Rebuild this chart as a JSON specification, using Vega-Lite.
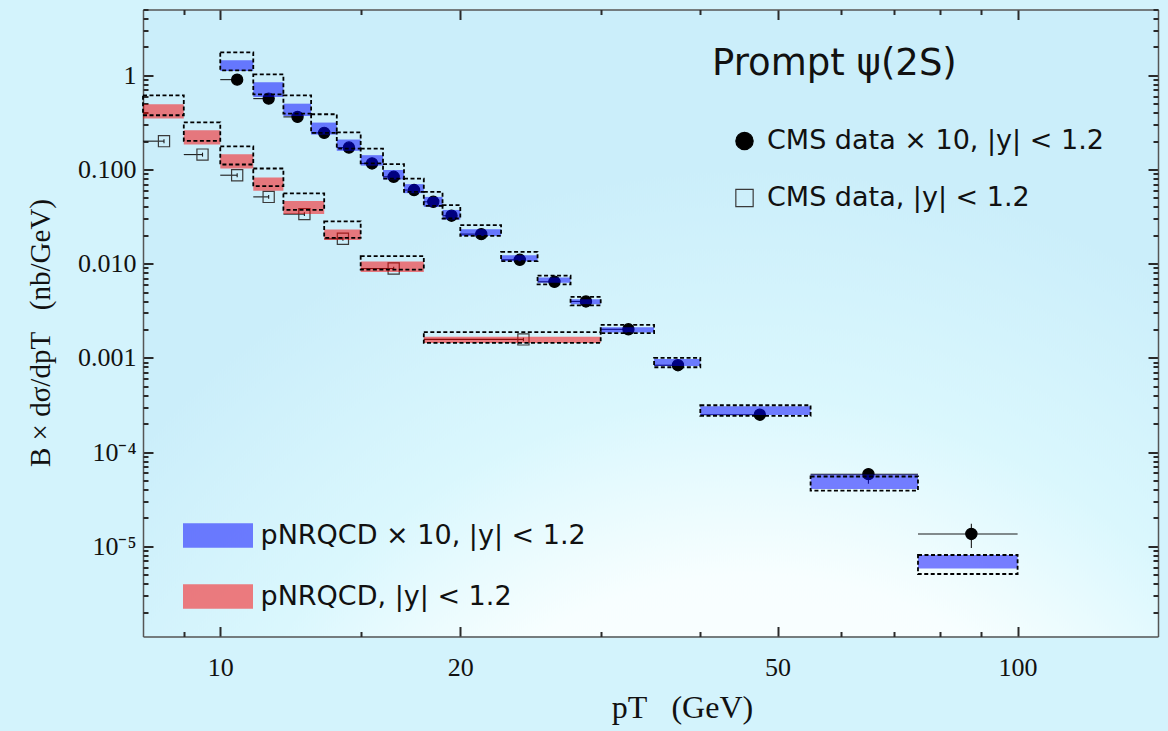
{
  "$schema": "https://vega.github.io/schema/vega-lite/v6.json",
  "width": 1015,
  "height": 627,
  "autosize": {"type": "none"},
  "padding": {"left": 143, "top": 9.5, "right": 10, "bottom": 94.5},
  "background": "#d3f3fc",
  "view": {
    "stroke": null,
    "fill": {
      "gradient": "radial",
      "x1": 0.6, "y1": 1.15, "r1": 0,
      "x2": 0.6, "y2": 1.15, "r2": 0.8,
      "stops": [
        {"offset": 0, "color": "#ffffff"},
        {"offset": 0.5, "color": "#f7feff"},
        {"offset": 0.72, "color": "#daf7fd"},
        {"offset": 1, "color": "#cbeefa"}
      ]
    }
  },
  "datasets": {
    "theory": [
      {"model": "pNRQCD × 10, |y| < 1.2", "lo": 10, "hi": 11, "band_lo": 1.11, "band_hi": 1.443, "box_lo": 1.13, "box_hi": 1.75},
      {"model": "pNRQCD × 10, |y| < 1.2", "lo": 11, "hi": 12, "band_lo": 0.589, "band_hi": 0.843, "box_lo": 0.629, "box_hi": 1.025},
      {"model": "pNRQCD × 10, |y| < 1.2", "lo": 12, "hi": 13, "band_lo": 0.37, "band_hi": 0.5, "box_lo": 0.393, "box_hi": 0.614},
      {"model": "pNRQCD × 10, |y| < 1.2", "lo": 13, "hi": 14, "band_lo": 0.235, "band_hi": 0.315, "box_lo": 0.245, "box_hi": 0.386},
      {"model": "pNRQCD × 10, |y| < 1.2", "lo": 14, "hi": 15, "band_lo": 0.158, "band_hi": 0.208, "box_lo": 0.167, "box_hi": 0.248},
      {"model": "pNRQCD × 10, |y| < 1.2", "lo": 15, "hi": 16, "band_lo": 0.11, "band_hi": 0.142, "box_lo": 0.116, "box_hi": 0.167},
      {"model": "pNRQCD × 10, |y| < 1.2", "lo": 16, "hi": 17, "band_lo": 0.0784, "band_hi": 0.0985, "box_lo": 0.0802, "box_hi": 0.1138},
      {"model": "pNRQCD × 10, |y| < 1.2", "lo": 17, "hi": 18, "band_lo": 0.0561, "band_hi": 0.0699, "box_lo": 0.0578, "box_hi": 0.0802},
      {"model": "pNRQCD × 10, |y| < 1.2", "lo": 18, "hi": 19, "band_lo": 0.0401, "band_hi": 0.0512, "box_lo": 0.0411, "box_hi": 0.0578},
      {"model": "pNRQCD × 10, |y| < 1.2", "lo": 19, "hi": 20, "band_lo": 0.0294, "band_hi": 0.0372, "box_lo": 0.0302, "box_hi": 0.0418},
      {"model": "pNRQCD × 10, |y| < 1.2", "lo": 20, "hi": 22.5, "band_lo": 0.0197, "band_hi": 0.0232, "box_lo": 0.0197, "box_hi": 0.0257},
      {"model": "pNRQCD × 10, |y| < 1.2", "lo": 22.5, "hi": 25, "band_lo": 0.01064, "band_hi": 0.0123, "box_lo": 0.01064, "box_hi": 0.01336},
      {"model": "pNRQCD × 10, |y| < 1.2", "lo": 25, "hi": 27.5, "band_lo": 0.00626, "band_hi": 0.00715, "box_lo": 0.00604, "box_hi": 0.00745},
      {"model": "pNRQCD × 10, |y| < 1.2", "lo": 27.5, "hi": 30, "band_lo": 0.00371, "band_hi": 0.00419, "box_lo": 0.00361, "box_hi": 0.00445},
      {"model": "pNRQCD × 10, |y| < 1.2", "lo": 30, "hi": 35, "band_lo": 0.00186, "band_hi": 0.00212, "box_lo": 0.00183, "box_hi": 0.00224},
      {"model": "pNRQCD × 10, |y| < 1.2", "lo": 35, "hi": 40, "band_lo": 0.000822, "band_hi": 0.000975, "box_lo": 0.000795, "box_hi": 0.000998},
      {"model": "pNRQCD × 10, |y| < 1.2", "lo": 40, "hi": 55, "band_lo": 0.000247, "band_hi": 0.000307, "box_lo": 0.000242, "box_hi": 0.000314},
      {"model": "pNRQCD × 10, |y| < 1.2", "lo": 55, "hi": 75, "band_lo": 0.0000406, "band_hi": 0.0000576, "box_lo": 0.000039, "box_hi": 0.000055},
      {"model": "pNRQCD × 10, |y| < 1.2", "lo": 75, "hi": 100, "band_lo": 0.0000058, "band_hi": 0.00000807, "box_lo": 0.00000507, "box_hi": 0.00000807},
      {"model": "pNRQCD, |y| < 1.2", "lo": 8, "hi": 9, "band_lo": 0.348, "band_hi": 0.493, "box_lo": 0.377, "box_hi": 0.614},
      {"model": "pNRQCD, |y| < 1.2", "lo": 9, "hi": 10, "band_lo": 0.184, "band_hi": 0.261, "box_lo": 0.201, "box_hi": 0.317},
      {"model": "pNRQCD, |y| < 1.2", "lo": 10, "hi": 11, "band_lo": 0.1025, "band_hi": 0.145, "box_lo": 0.113, "box_hi": 0.176},
      {"model": "pNRQCD, |y| < 1.2", "lo": 11, "hi": 12, "band_lo": 0.0594, "band_hi": 0.0821, "box_lo": 0.0665, "box_hi": 0.1025},
      {"model": "pNRQCD, |y| < 1.2", "lo": 12, "hi": 13.5, "band_lo": 0.0336, "band_hi": 0.0464, "box_lo": 0.0372, "box_hi": 0.0557},
      {"model": "pNRQCD, |y| < 1.2", "lo": 13.5, "hi": 15, "band_lo": 0.0178, "band_hi": 0.0231, "box_lo": 0.0188, "box_hi": 0.0282},
      {"model": "pNRQCD, |y| < 1.2", "lo": 15, "hi": 18, "band_lo": 0.00817, "band_hi": 0.01055, "box_lo": 0.00866, "box_hi": 0.01203},
      {"model": "pNRQCD, |y| < 1.2", "lo": 18, "hi": 30, "band_lo": 0.00144, "band_hi": 0.00168, "box_lo": 0.00144, "box_hi": 0.00188}
    ],
    "cms": [
      {"series": "CMS data × 10, |y| < 1.2", "pt": 10.5, "xlo": 10, "xhi": 10.5, "y": 0.9, "ylo": 0.865, "yhi": 0.935},
      {"series": "CMS data × 10, |y| < 1.2", "pt": 11.5, "xlo": 11, "xhi": 11.5, "y": 0.566, "ylo": 0.544, "yhi": 0.588},
      {"series": "CMS data × 10, |y| < 1.2", "pt": 12.5, "xlo": 12, "xhi": 12.5, "y": 0.362, "ylo": 0.348, "yhi": 0.376},
      {"series": "CMS data × 10, |y| < 1.2", "pt": 13.5, "xlo": 13, "xhi": 13.5, "y": 0.245, "ylo": 0.235, "yhi": 0.255},
      {"series": "CMS data × 10, |y| < 1.2", "pt": 14.5, "xlo": 14, "xhi": 14.5, "y": 0.171, "ylo": 0.164, "yhi": 0.178},
      {"series": "CMS data × 10, |y| < 1.2", "pt": 15.5, "xlo": 15, "xhi": 15.5, "y": 0.116, "ylo": 0.111, "yhi": 0.121},
      {"series": "CMS data × 10, |y| < 1.2", "pt": 16.5, "xlo": 16, "xhi": 16.5, "y": 0.0837, "ylo": 0.0803, "yhi": 0.0871},
      {"series": "CMS data × 10, |y| < 1.2", "pt": 17.5, "xlo": 17, "xhi": 17.5, "y": 0.0605, "ylo": 0.058, "yhi": 0.063},
      {"series": "CMS data × 10, |y| < 1.2", "pt": 18.5, "xlo": 18, "xhi": 18.5, "y": 0.0454, "ylo": 0.0435, "yhi": 0.0473},
      {"series": "CMS data × 10, |y| < 1.2", "pt": 19.5, "xlo": 19, "xhi": 19.5, "y": 0.0323, "ylo": 0.031, "yhi": 0.0336},
      {"series": "CMS data × 10, |y| < 1.2", "pt": 21.25, "xlo": 20, "xhi": 21.25, "y": 0.0206, "ylo": 0.0198, "yhi": 0.0214},
      {"series": "CMS data × 10, |y| < 1.2", "pt": 23.75, "xlo": 22.5, "xhi": 23.75, "y": 0.011, "ylo": 0.0105, "yhi": 0.0115},
      {"series": "CMS data × 10, |y| < 1.2", "pt": 26.25, "xlo": 25, "xhi": 26.25, "y": 0.00642, "ylo": 0.00614, "yhi": 0.0067},
      {"series": "CMS data × 10, |y| < 1.2", "pt": 28.75, "xlo": 27.5, "xhi": 28.75, "y": 0.00397, "ylo": 0.0038, "yhi": 0.00414},
      {"series": "CMS data × 10, |y| < 1.2", "pt": 32.5, "xlo": 30, "xhi": 32.5, "y": 0.00201, "ylo": 0.00192, "yhi": 0.0021},
      {"series": "CMS data × 10, |y| < 1.2", "pt": 37.5, "xlo": 35, "xhi": 37.5, "y": 0.000835, "ylo": 0.000795, "yhi": 0.000875},
      {"series": "CMS data × 10, |y| < 1.2", "pt": 47.5, "xlo": 40, "xhi": 47.5, "y": 0.000249, "ylo": 0.000236, "yhi": 0.000262},
      {"series": "CMS data × 10, |y| < 1.2", "pt": 65, "xlo": 55, "xhi": 75, "y": 0.0000582, "ylo": 0.000046, "yhi": 0.000066},
      {"series": "CMS data × 10, |y| < 1.2", "pt": 87.5, "xlo": 75, "xhi": 100, "y": 0.0000135, "ylo": 0.0000096, "yhi": 0.0000173},
      {"series": "CMS data, |y| < 1.2", "pt": 8.5, "xlo": 8, "xhi": 8.5, "y": 0.2, "ylo": 0.19, "yhi": 0.21},
      {"series": "CMS data, |y| < 1.2", "pt": 9.5, "xlo": 9, "xhi": 9.5, "y": 0.144, "ylo": 0.137, "yhi": 0.151},
      {"series": "CMS data, |y| < 1.2", "pt": 10.5, "xlo": 10, "xhi": 10.5, "y": 0.087, "ylo": 0.083, "yhi": 0.091},
      {"series": "CMS data, |y| < 1.2", "pt": 11.5, "xlo": 11, "xhi": 11.5, "y": 0.0512, "ylo": 0.0488, "yhi": 0.0536},
      {"series": "CMS data, |y| < 1.2", "pt": 12.75, "xlo": 12, "xhi": 12.75, "y": 0.0336, "ylo": 0.032, "yhi": 0.0352},
      {"series": "CMS data, |y| < 1.2", "pt": 14.25, "xlo": 13.5, "xhi": 14.25, "y": 0.01837, "ylo": 0.0175, "yhi": 0.0192},
      {"series": "CMS data, |y| < 1.2", "pt": 16.5, "xlo": 15, "xhi": 16.5, "y": 0.0089, "ylo": 0.0085, "yhi": 0.0093},
      {"series": "CMS data, |y| < 1.2", "pt": 24, "xlo": 18, "xhi": 24, "y": 0.00157, "ylo": 0.0015, "yhi": 0.00164}
    ]
  },
  "layer": [
    {
      "data": {"name": "theory"},
      "mark": {"type": "point", "opacity": 0},
      "encoding": {
        "x": {
          "field": "lo", "type": "quantitative",
          "scale": {"type": "log", "domain": [8, 150], "nice": false},
          "axis": {
            "orient": "bottom", "grid": false,
            "values": [10, 20, 50, 100],
            "labelExpr": "format(datum.value, 'd')",
            "tickSize": -10, "tickColor": "#2a2a2a", "tickWidth": 2, "domainColor": "#555", "domainWidth": 1.5,
            "labelFont": "Liberation Serif", "labelFontSize": 26, "labelColor": "#111", "labelPadding": 28, "labelBaseline": "top",
            "title": "pT\u00a0\u00a0\u00a0(GeV)", "titleFont": "Liberation Serif", "titleFontSize": 32, "titleFontWeight": "normal", "titleColor": "#111",
            "titleX": 539, "titleY": 81, "titleBaseline": "alphabetic", "titleAnchor": "middle"
          }
        },
        "y": {
          "field": "band_lo", "type": "quantitative",
          "scale": {"type": "log", "domain": [0.0000011, 5], "nice": false},
          "axis": {
            "orient": "left", "grid": false,
            "values": [0.00001, 0.0001, 0.001, 0.01, 0.1, 1],
            "labelExpr": "datum.value == 1 ? '1' : datum.value == 0.1 ? '0.100' : datum.value == 0.01 ? '0.010' : datum.value == 0.001 ? '0.001' : datum.value == 0.0001 ? '10⁻⁴' : '10⁻⁵'",
            "tickSize": -10, "tickColor": "#2a2a2a", "tickWidth": 2, "domainColor": "#555", "domainWidth": 1.5,
            "labelFont": "Liberation Serif", "labelFontSize": 26, "labelColor": "#111", "labelPadding": 17,
            "title": "B × dσ/dpT\u00a0\u00a0\u00a0(nb/GeV)", "titleFont": "Liberation Serif", "titleFontSize": 29, "titleFontWeight": "normal", "titleColor": "#111",
            "titleX": -103, "titleY": 323, "titleBaseline": "middle", "titleAnchor": "middle", "titleAngle": 270
          }
        }
      }
    },
    {
      "data": {"name": "theory"},
      "mark": {"type": "point", "opacity": 0},
      "encoding": {
        "x": {
          "field": "lo", "type": "quantitative",
          "scale": {"type": "log", "domain": [8, 150], "nice": false},
          "axis": {
            "orient": "bottom", "grid": false, "labels": false, "title": null, "domain": false,
            "values": [9, 15, 30, 40, 60, 70, 80, 90],
            "tickSize": -5, "tickColor": "#2a2a2a", "tickWidth": 2
          }
        },
        "y": {
          "field": "band_lo", "type": "quantitative",
          "scale": {"type": "log", "domain": [0.0000011, 5], "nice": false},
          "axis": {
            "orient": "left", "grid": false, "labels": false, "title": null, "domain": false,
            "values": [0.000002, 0.000003, 0.000004, 0.000005, 0.000006, 0.000007, 0.000008, 0.000009, 0.00002, 0.00003, 0.00004, 0.00005, 0.00006, 0.00007, 0.00008, 0.00009, 0.0002, 0.0003, 0.0004, 0.0005, 0.0006, 0.0007, 0.0008, 0.0009, 0.002, 0.003, 0.004, 0.005, 0.006, 0.007, 0.008, 0.009, 0.02, 0.03, 0.04, 0.05, 0.06, 0.07, 0.08, 0.09, 0.2, 0.3, 0.4, 0.5, 0.6, 0.7, 0.8, 0.9, 2, 3, 4, 5],
            "tickSize": -5, "tickColor": "#2a2a2a", "tickWidth": 2
          }
        }
      }
    },
    {
      "data": {"name": "theory"},
      "mark": {"type": "point", "opacity": 0},
      "encoding": {
        "x": {
          "field": "lo", "type": "quantitative",
          "scale": {"type": "log", "domain": [8, 150], "nice": false},
          "axis": {
            "orient": "top", "grid": false, "labels": false, "title": null,
            "values": [10, 20, 50, 100],
            "tickSize": -10, "tickColor": "#2a2a2a", "tickWidth": 2, "domainColor": "#555", "domainWidth": 1.5
          }
        },
        "y": {
          "field": "band_lo", "type": "quantitative",
          "scale": {"type": "log", "domain": [0.0000011, 5], "nice": false},
          "axis": {
            "orient": "right", "grid": false, "labels": false, "title": null,
            "values": [0.00001, 0.0001, 0.001, 0.01, 0.1, 1],
            "tickSize": -10, "tickColor": "#2a2a2a", "tickWidth": 2, "domainColor": "#555", "domainWidth": 1.5
          }
        }
      }
    },
    {
      "data": {"name": "theory"},
      "mark": {"type": "point", "opacity": 0},
      "encoding": {
        "x": {
          "field": "lo", "type": "quantitative",
          "scale": {"type": "log", "domain": [8, 150], "nice": false},
          "axis": {
            "orient": "top", "grid": false, "labels": false, "title": null, "domain": false,
            "values": [9, 15, 30, 40, 60, 70, 80, 90],
            "tickSize": -5, "tickColor": "#2a2a2a", "tickWidth": 2
          }
        },
        "y": {
          "field": "band_lo", "type": "quantitative",
          "scale": {"type": "log", "domain": [0.0000011, 5], "nice": false},
          "axis": {
            "orient": "right", "grid": false, "labels": false, "title": null, "domain": false,
            "values": [0.000002, 0.000003, 0.000004, 0.000005, 0.000006, 0.000007, 0.000008, 0.000009, 0.00002, 0.00003, 0.00004, 0.00005, 0.00006, 0.00007, 0.00008, 0.00009, 0.0002, 0.0003, 0.0004, 0.0005, 0.0006, 0.0007, 0.0008, 0.0009, 0.002, 0.003, 0.004, 0.005, 0.006, 0.007, 0.008, 0.009, 0.02, 0.03, 0.04, 0.05, 0.06, 0.07, 0.08, 0.09, 0.2, 0.3, 0.4, 0.5, 0.6, 0.7, 0.8, 0.9, 2, 3, 4, 5],
            "tickSize": -5, "tickColor": "#2a2a2a", "tickWidth": 2
          }
        }
      }
    },
    {
      "layer": [
        {
          "data": {"name": "cms"},
          "mark": {"type": "rule", "color": "#1a1a1a", "strokeWidth": 1.1},
          "encoding": {
            "x": {"field": "xlo", "type": "quantitative", "scale": {"type": "log", "domain": [8, 150], "nice": false}, "axis": null},
            "x2": {"field": "xhi"},
            "y": {"field": "y", "type": "quantitative", "scale": {"type": "log", "domain": [0.0000011, 5], "nice": false}, "axis": null}
          }
        },
        {
          "data": {"name": "cms"},
          "mark": {"type": "rule", "color": "#1a1a1a", "strokeWidth": 1.1},
          "encoding": {
            "x": {"field": "pt", "type": "quantitative", "scale": {"type": "log", "domain": [8, 150], "nice": false}, "axis": null},
            "y": {"field": "ylo", "type": "quantitative", "scale": {"type": "log", "domain": [0.0000011, 5], "nice": false}, "axis": null},
            "y2": {"field": "yhi"}
          }
        },
        {
          "data": {"name": "cms"},
          "mark": {"type": "point", "opacity": 1, "strokeWidth": 1.2, "size": 125},
          "encoding": {
            "x": {"field": "pt", "type": "quantitative", "scale": {"type": "log", "domain": [8, 150], "nice": false}, "axis": null},
            "y": {"field": "y", "type": "quantitative", "scale": {"type": "log", "domain": [0.0000011, 5], "nice": false}, "axis": null},
            "shape": {
              "field": "series", "type": "nominal",
              "scale": {"domain": ["CMS data × 10, |y| < 1.2", "CMS data, |y| < 1.2"], "range": ["circle", "square"]},
              "legend": {"title": "Prompt ψ(2S)", "orient": "none", "legendX": 569, "legendY": 36, "padding": 0, "symbolOffset": 19, "symbolSize": 300, "symbolStrokeWidth": 1.2, "labelOffset": 9, "labelFont": "DejaVu Sans", "labelFontSize": 27, "labelColor": "#111", "labelLimit": 0, "titleFont": "DejaVu Sans", "titleFontSize": 37, "titleFontWeight": "normal", "titleColor": "#111", "titlePadding": 45, "titleLimit": 0, "rowPadding": 29}
            },
            "fill": {
              "field": "series", "type": "nominal",
              "scale": {"domain": ["CMS data × 10, |y| < 1.2", "CMS data, |y| < 1.2"], "range": ["black", "transparent"]},
              "legend": {"title": "Prompt ψ(2S)", "orient": "none", "legendX": 569, "legendY": 36, "padding": 0, "symbolOffset": 19, "symbolSize": 300, "symbolStrokeWidth": 1.2, "labelOffset": 9, "labelFont": "DejaVu Sans", "labelFontSize": 27, "labelColor": "#111", "labelLimit": 0, "titleFont": "DejaVu Sans", "titleFontSize": 37, "titleFontWeight": "normal", "titleColor": "#111", "titlePadding": 45, "titleLimit": 0, "rowPadding": 29}
            },
            "stroke": {
              "field": "series", "type": "nominal",
              "scale": {"domain": ["CMS data × 10, |y| < 1.2", "CMS data, |y| < 1.2"], "range": ["black", "#3a3a3a"]},
              "legend": {"title": "Prompt ψ(2S)", "orient": "none", "legendX": 569, "legendY": 36, "padding": 0, "symbolOffset": 19, "symbolSize": 300, "symbolStrokeWidth": 1.2, "labelOffset": 9, "labelFont": "DejaVu Sans", "labelFontSize": 27, "labelColor": "#111", "labelLimit": 0, "titleFont": "DejaVu Sans", "titleFontSize": 37, "titleFontWeight": "normal", "titleColor": "#111", "titlePadding": 45, "titleLimit": 0, "rowPadding": 29}
            }
          }
        },
        {
          "data": {"name": "theory"},
          "mark": {"type": "rect", "opacity": 0.5},
          "encoding": {
            "x": {"field": "lo", "type": "quantitative", "scale": {"type": "log", "domain": [8, 150], "nice": false}, "axis": null},
            "x2": {"field": "hi"},
            "y": {"field": "band_lo", "type": "quantitative", "scale": {"type": "log", "domain": [0.0000011, 5], "nice": false}, "axis": null},
            "y2": {"field": "band_hi"},
            "color": {
              "field": "model", "type": "nominal",
              "scale": {"domain": ["pNRQCD × 10, |y| < 1.2", "pNRQCD, |y| < 1.2"], "range": ["#0000ff", "#ff0000"]},
              "legend": {"title": null, "orient": "none", "legendX": 40, "legendY": 512, "padding": 0, "symbolType": "M-2.5,-0.875H2.5V0.875H-2.5Z", "symbolSize": 784, "symbolOffset": 21, "symbolOpacity": 0.5, "symbolStrokeWidth": 0, "labelOffset": 28.5, "labelFont": "DejaVu Sans", "labelFontSize": 27, "labelColor": "#111", "labelLimit": 0, "rowPadding": 34}
            }
          }
        },
        {
          "data": {"name": "theory"},
          "mark": {"type": "rect", "fill": "transparent", "stroke": "black", "strokeWidth": 1.8, "strokeDash": [4, 2.5]},
          "encoding": {
            "x": {"field": "lo", "type": "quantitative", "scale": {"type": "log", "domain": [8, 150], "nice": false}, "axis": null},
            "x2": {"field": "hi"},
            "y": {"field": "box_lo", "type": "quantitative", "scale": {"type": "log", "domain": [0.0000011, 5], "nice": false}, "axis": null},
            "y2": {"field": "box_hi"}
          }
        }
      ]
    }
  ],
  "resolve": {"axis": {"x": "independent", "y": "independent"}}
}
